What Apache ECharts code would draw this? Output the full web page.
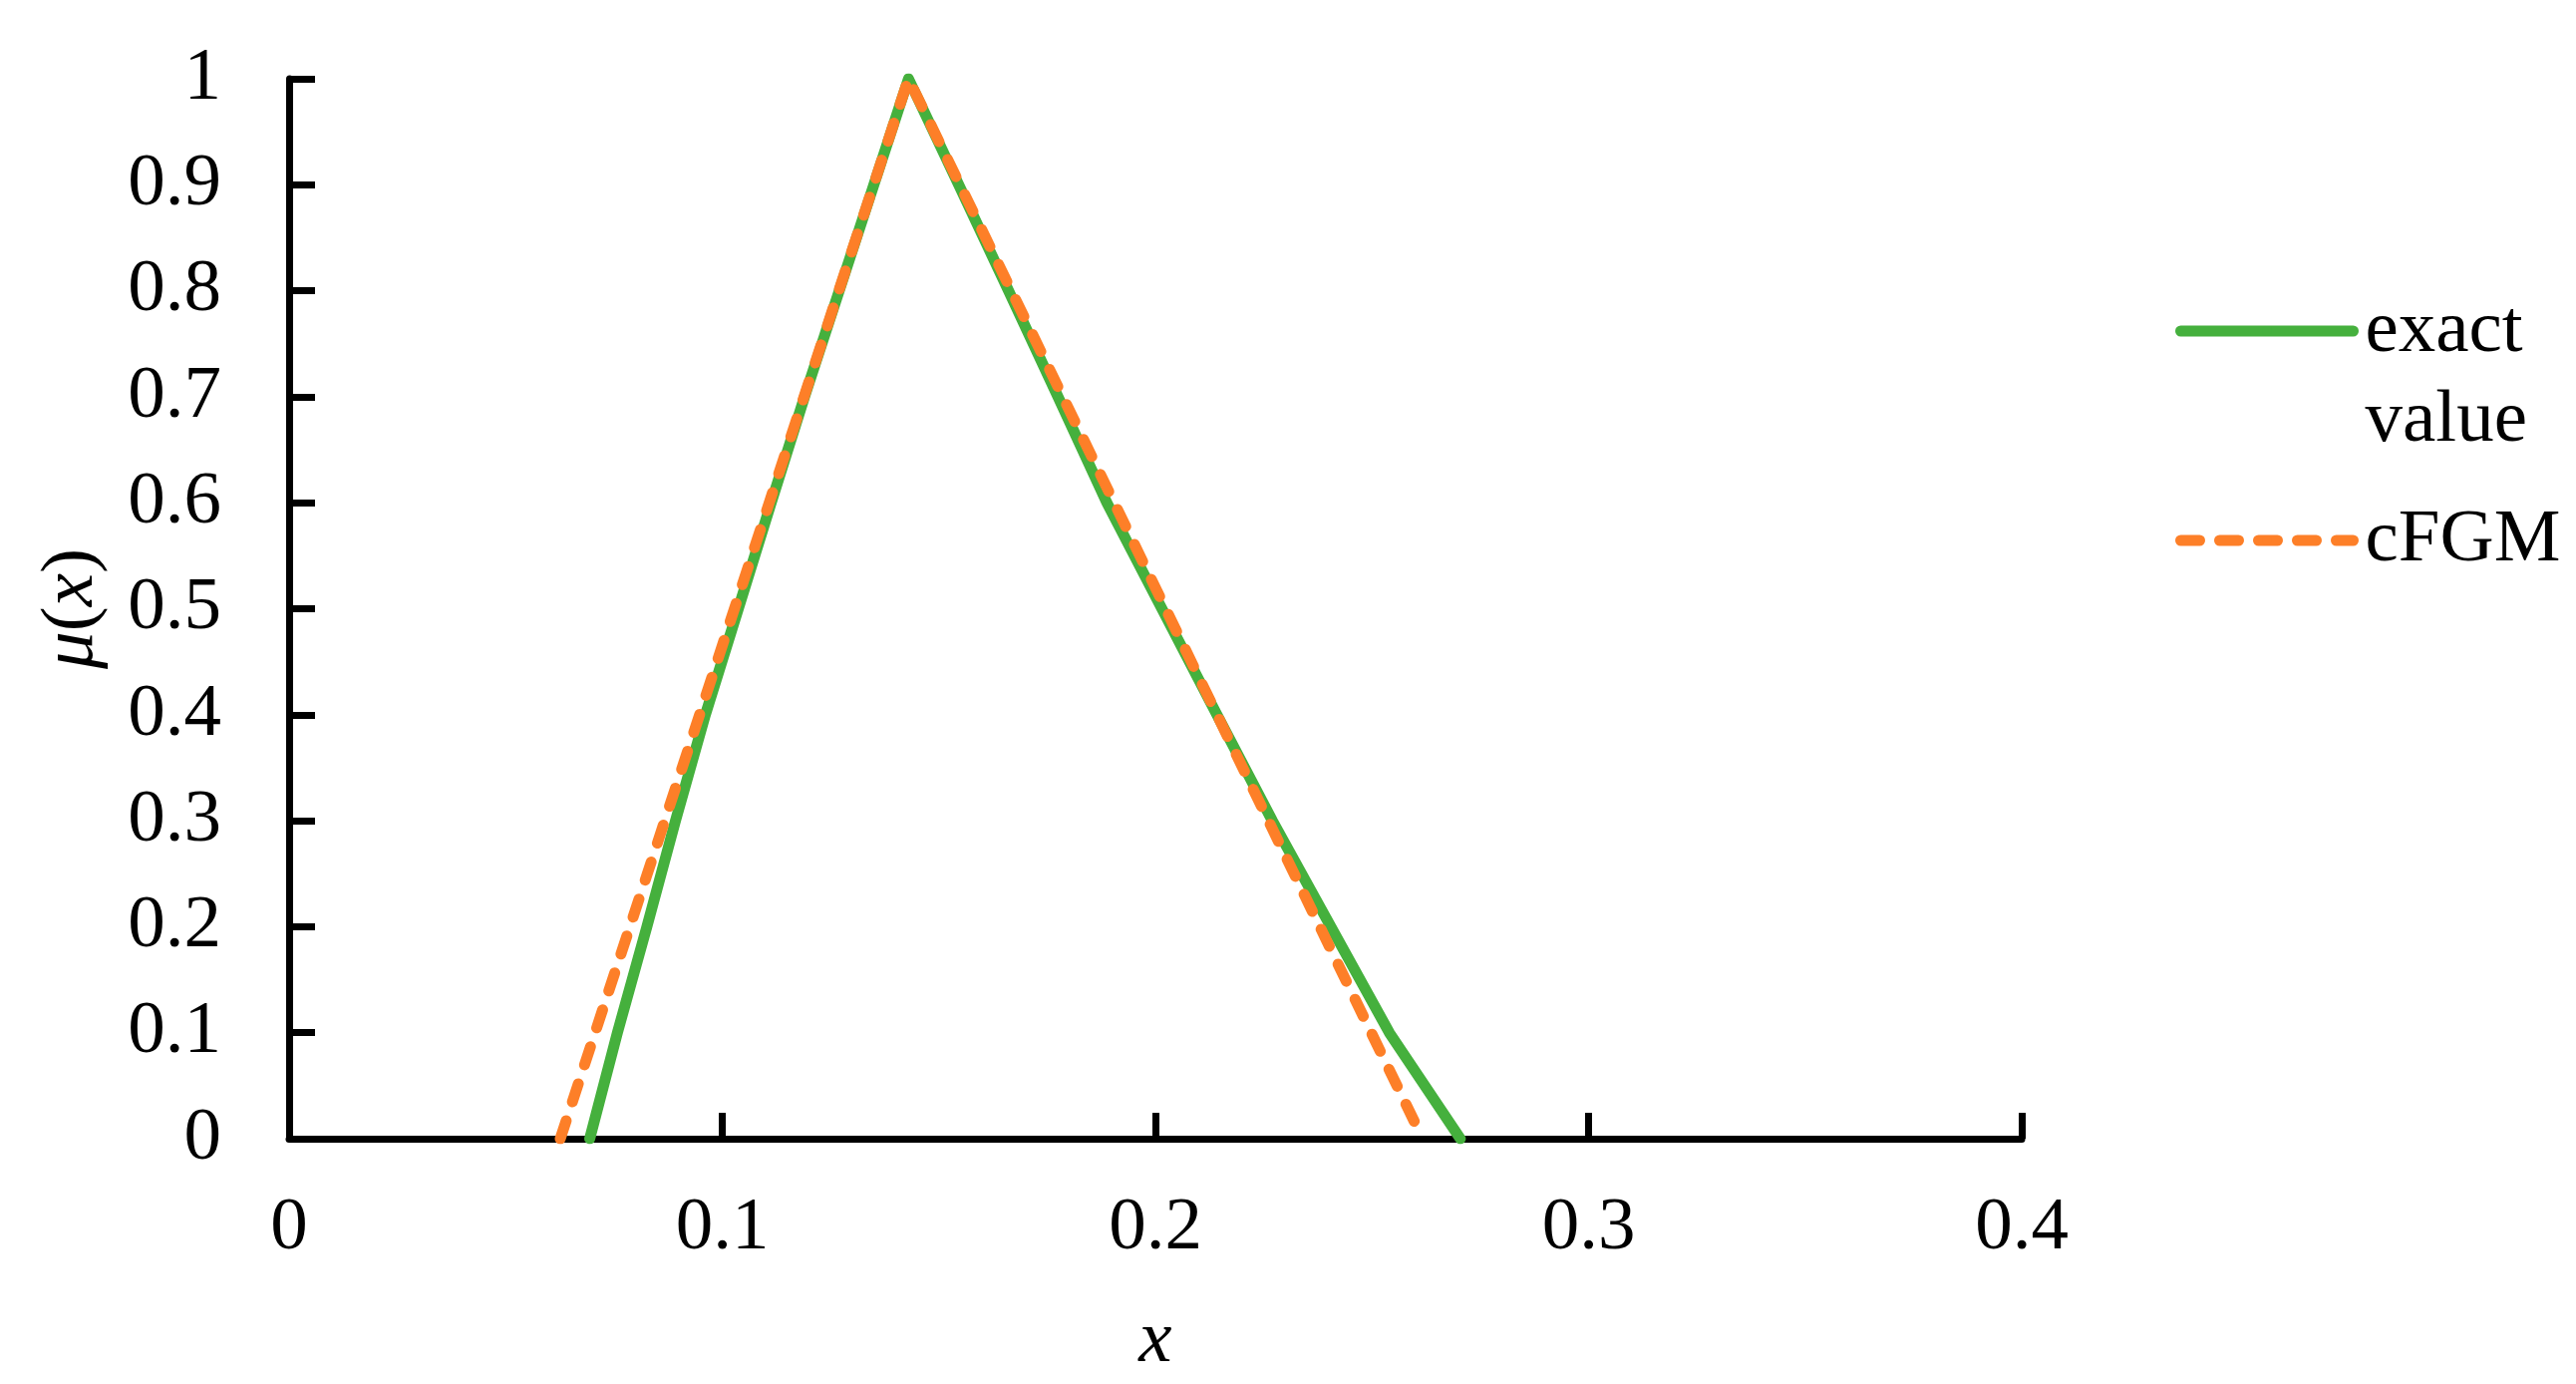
<!DOCTYPE html>
<html>
<head>
<meta charset="utf-8">
<script src="https://cdn.jsdelivr.net/npm/echarts@6/dist/echarts.min.js"></script>
<style>
  html, body { margin: 0; padding: 0; background: #fff; }
  #chart { width: 2584px; height: 1388px; }
</style>
</head>
<body>
<div id="chart"></div>
<script>
// membership levels and x values
var muLevels = [0, 0.1, 0.2, 0.3, 0.4, 0.5, 0.6, 0.7, 0.8, 0.9, 1]
var exactLeft = [0.0694, 0.0758, 0.0826, 0.0892, 0.0961, 0.1037, 0.1113, 0.1190, 0.1270, 0.1350, 0.1430]
var exactRight = [0.2704, 0.2540, 0.2405, 0.2270, 0.2142, 0.2015, 0.1888, 0.1775, 0.1661, 0.1546, 0.1430]
// cFGM is a triangle: left, peak, right
var cfgmX = [0.0626, 0.1430, 0.2617]
var cfgmMu = [0, 1, 0]

var xTickLabels = ['0', '0.1', '0.2', '0.3', '0.4']
var yTickLabels = ['0', '0.1', '0.2', '0.3', '0.4', '0.5', '0.6', '0.7', '0.8', '0.9', '1']

var serif = '"Liberation Serif", "Times New Roman", serif'
var green = '#45B03D'
var orange = '#FD7F28'

var exactData = []
for (var i = 0; i < muLevels.length; i++) {
  exactData.push([exactLeft[i], muLevels[i]])
}
for (var j = muLevels.length - 2; j >= 0; j--) {
  exactData.push([exactRight[j], muLevels[j]])
}
var cfgmData = []
for (var k = 0; k < cfgmX.length; k++) {
  cfgmData.push([cfgmX[k], cfgmMu[k]])
}

var axisLine = { lineStyle: { color: '#000', width: 7 } }
var axisTick = { inside: true, length: 26, lineStyle: { color: '#000', width: 7 } }

var chart = echarts.init(document.getElementById('chart'))
chart.setOption({
  animation: false,
  grid: { left: 290, right: 556, top: 79, bottom: 243 },
  legend: {
    orient: 'vertical',
    left: 2182,
    top: 197,
    padding: 0,
    itemGap: 30,
    itemWidth: 173,
    itemHeight: 12,
    lineStyle: { width: 11, cap: 'round' },
    textStyle: { fontFamily: serif, fontSize: 75, color: '#000', lineHeight: 90, padding: [0, 0, 0, 7] },
    data: ['exact value', 'cFGM'],
    // first line left empty so the sample sits level with "exact"
    formatter: function (name) {
      return name === 'exact value' ? ' \nexact\nvalue' : name
    }
  },
  xAxis: {
    type: 'value',
    min: 0,
    max: 0.4,
    interval: 0.1,
    name: 'x',
    nameLocation: 'middle',
    nameGap: 166,
    nameTextStyle: { fontFamily: serif, fontSize: 75, fontStyle: 'italic', color: '#000' },
    axisLine: axisLine,
    axisTick: axisTick,
    splitLine: { show: false },
    axisLabel: {
      margin: 53,
      fontFamily: serif,
      fontSize: 75,
      color: '#000',
      formatter: function (v) { return xTickLabels[Math.round(v * 10)] }
    }
  },
  yAxis: {
    type: 'value',
    min: 0,
    max: 1,
    interval: 0.1,
    name: '{i|μ}{n|(}{i|x}{n|)}',
    nameLocation: 'middle',
    nameRotate: 90,
    nameGap: 180,
    nameTextStyle: {
      rich: {
        i: { fontFamily: serif, fontSize: 75, fontStyle: 'italic', color: '#000' },
        n: { fontFamily: serif, fontSize: 75, color: '#000' }
      }
    },
    axisLine: axisLine,
    axisTick: axisTick,
    splitLine: { show: false },
    axisLabel: {
      margin: 68,
      fontFamily: serif,
      fontSize: 75,
      color: '#000',
      formatter: function (v) { return yTickLabels[Math.round(v * 10)] }
    }
  },
  series: [
    {
      name: 'exact value',
      type: 'line',
      symbol: 'none',
      data: exactData,
      lineStyle: { color: green, width: 11, cap: 'round', join: 'round' },
      itemStyle: { color: green }
    },
    {
      name: 'cFGM',
      type: 'line',
      symbol: 'none',
      data: cfgmData,
      lineStyle: { color: orange, width: 11, type: [19, 20], cap: 'round', join: 'round' },
      itemStyle: { color: orange }
    }
  ]
})
</script>
</body>
</html>
